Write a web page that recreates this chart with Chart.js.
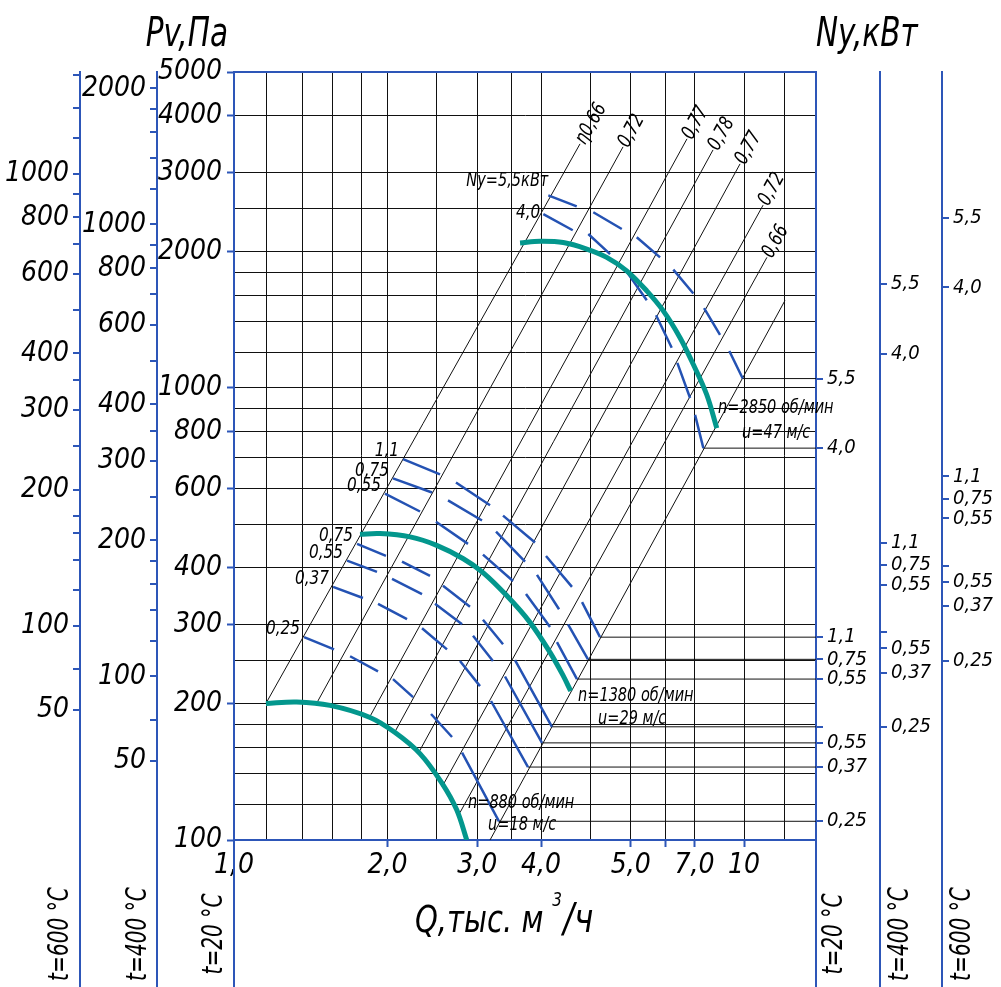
<!DOCTYPE html>
<html>
<head>
<meta charset="utf-8">
<script src="https://cdn.jsdelivr.net/npm/chart.js@4.4.1/dist/chart.umd.min.js"></script>
<style>
  html, body { margin: 0; background: #fff; }
  #wrap { width: 1001px; height: 987px; position: relative; }
</style>
</head>
<body>
<div id="wrap"><canvas id="chart"></canvas></div>
<script>
// Q in thousand m3/h, Pv in Pa (t = 20 °C)
const qMin = 1, qMax = 13.84;
const pMin = 100, pMax = 5000;

const qGrid = [1.16, 1.36, 1.56, 1.78, 2, 2.5, 3, 3.5, 4, 5, 6, 7, 8, 10, 12];
const qTickValues = [1, 2, 3, 4, 6, 7, 8, 10];
const qTickLabels = ['1,0', '2,0', '3,0', '4,0', '5,0', '', '7,0', '10'];

const pGrid = [100, 120, 140, 160, 180, 200, 250, 300, 400, 500, 600, 700, 800, 900, 1000,
  1200, 1400, 1600, 1800, 2000, 2500, 3000, 4000, 5000];
const pTickValues = [100, 200, 300, 400, 600, 800, 1000, 2000, 3000, 4000, 5000];

// outer pressure scales for hot air
const t400Ticks = [65, 80, 100, 120, 140, 160, 180, 200, 250, 300, 350, 400, 500, 600, 700, 800, 900, 1000, 1200, 1400, 1600, 1800, 2000];
const t400Labels = ['50', '', '100', '', '', '', '', '200', '', '300', '', '400', '', '600', '', '800', '', '1000', '', '', '', '', '2000'];
const t600Ticks = [65, 80, 100, 120, 140, 160, 175, 200, 250, 300, 350, 400, 500, 600, 700, 800, 900, 1000, 1200, 1400, 1650];
const t600Labels = ['50', '', '100', '', '', '', '', '200', '', '300', '', '400', '', '600', '', '800', '', '1000', '', '', ''];
const densityRatio = { t400: 2.30, t600: 2.98 };
const powerRatio = { t400: 1.618, t600: 2.268 };
const tempLabels = ['t=20 °C', 't=400 °C', 't=600 °C'];

// fan curves
const curve880 = [[1.155, 200.5], [1.327, 202], [1.543, 198.5], [1.848, 186.7], [2.069, 172.9],
  [2.315, 155.3], [2.555, 133.8], [2.733, 116.6], [2.860, 100]];
const curve1380 = [[1.766, 474.6], [1.933, 476.3], [2.214, 468.3], [2.497, 448.6], [2.816, 419],
  [3.082, 390], [3.425, 347.3], [3.805, 303], [4.165, 260], [4.422, 230.7], [4.573, 213.6]];
const curve2850 = [[3.638, 2093], [3.981, 2110], [4.422, 2097], [4.916, 2029], [5.380, 1945],
  [5.888, 1816], [6.446, 1640], [6.946, 1481], [7.491, 1292], [7.955, 1127], [8.452, 966], [8.843, 815]];
const speedNames = ['n=880 об/мин', 'n=1380 об/мин', 'n=2850 об/мин'];
const tipSpeeds = ['u=18 м/с', 'u=29 м/с', 'u=47 м/с'];

// power lines Ny, kW : dashes [Q1, P1, Q2, P2]
const power880Names = ['0,25', '0,37', '0,55', '0,75'];
const power880Scale = ['0,25', '0,37', '0,55', ''];
const power880 = [
  [[1.372, 281, 1.571, 264], [1.689, 255, 1.916, 236], [2.050, 227, 2.244, 207], [2.434, 190, 2.676, 169], [2.800, 156, 3.308, 110]],
  [[1.564, 363, 1.790, 343], [1.916, 333, 2.184, 308], [2.337, 294, 2.616, 264], [2.774, 249, 3.036, 219], [3.191, 203, 3.771, 145]],
  [[1.666, 415, 1.907, 392], [2.041, 378, 2.337, 350], [2.478, 333, 2.800, 300], [2.942, 283, 3.219, 249], [3.399, 230, 4.017, 164]],
  [[1.743, 452, 1.986, 425], [2.135, 413, 2.423, 384], [2.569, 365, 2.902, 328], [3.077, 307, 3.369, 271], [3.556, 250, 4.202, 178]]
];
const power1380Names = ['0,55', '0,75', '1,1'];
const power1380Scale = ['0,55', '0,75', '1,1'];
const power1380 = [
  [[1.977, 584, 2.316, 533], [2.489, 506, 2.876, 452], [3.077, 428, 3.524, 374], [3.737, 350, 4.165, 296], [4.298, 274, 4.704, 227]],
  [[2.050, 631, 2.445, 587], [2.628, 564, 3.064, 509], [3.264, 481, 3.721, 413], [3.927, 386, 4.338, 324], [4.518, 300, 4.944, 251]],
  [[2.145, 696, 2.535, 644], [2.724, 618, 3.177, 550], [3.369, 522, 3.892, 455], [4.090, 425, 4.599, 363], [4.813, 336, 5.220, 281]]
];
const power2850Names = ['4,0', 'Ny=5,5кВт'];
const power2850Scale = ['4,0', '5,5'];
const power2850 = [
  [[4.041, 2423, 4.615, 2233], [4.951, 2191, 5.462, 1978], [5.870, 1816, 6.446, 1563], [6.723, 1448, 7.215, 1227], [7.400, 1136, 7.838, 950], [8.017, 872, 8.323, 736]],
  [[4.133, 2667, 4.699, 2521], [5.064, 2448, 5.759, 2247], [6.161, 2154, 6.845, 1945], [7.267, 1827, 7.955, 1618], [8.350, 1501, 8.973, 1310], [9.358, 1207, 9.942, 1049]]
];

// efficiency lines [Q1, P1, Q2, P2]
const effLines = [[1.155, 200.5, 4.769, 3467], [1.448, 199.5, 5.791, 3414], [1.840, 186, 7.730, 3557],
  [2.059, 172, 8.694, 3362], [2.294, 155, 9.822, 3131], [2.557, 131, 10.90, 2538],
  [2.774, 115, 11.09, 1945], [3.177, 100, 12.03, 1561]];
const effLabels = ['η0,66', '0,72', '0,77', '0,78', '0,77', '0,72', '0,66', ''];

// ---------------------------------------------------------------
const AXIS = '#2d56b8', DASH = '#2452b3', TEAL = '#03978d', INK = '#111';
const FONT = "'Liberation Sans Narrow', 'DejaVu Sans Condensed', 'Liberation Sans', sans-serif";
Chart.defaults.font.family = FONT;
Chart.defaults.font.style = 'italic';
Chart.defaults.color = '#000';

const groups = [
  { names: power880Names, scale: power880Scale, lines: power880, curve: curve880 },
  { names: power1380Names, scale: power1380Scale, lines: power1380, curve: curve1380 },
  { names: power2850Names, scale: power2850Scale, lines: power2850, curve: curve2850 }
];

const endP = [], endLabels = [], datasets = [];
const line = (data, color, width, order) => ({
  data: data, borderColor: color, borderWidth: width, showLine: true,
  pointRadius: 0, order: order, spanGaps: false, tension: 0
});

effLines.forEach(l => datasets.push(line([{ x: l[0], y: l[1] }, { x: l[2], y: l[3] }], INK, 1, 3)));

groups.forEach(g => {
  g.lines.forEach((dashes, i) => {
    const pts = [];
    dashes.forEach(d => {
      pts.push({ x: d[0], y: d[1] }, { x: d[2], y: d[3] }, { x: d[2], y: null });
    });
    datasets.push(line(pts, DASH, 2.5, 2));
    const last = dashes[dashes.length - 1];
    endP.push(last[3]);
    endLabels.push(g.scale[i]);
    // leader to the power scale
    datasets.push(line([{ x: last[2], y: last[3] }, { x: qMax, y: last[3] }], INK, 1, 3));
  });
  const c = line(g.curve.map(p => ({ x: p[0], y: p[1] })), TEAL, 5, 1);
  c.tension = 0.35;
  datasets.push(c);
});

function fixedTicks(values) {
  return scale => { scale.ticks = values.map(v => ({ value: v })); };
}
function labelFrom(values, labels) {
  return v => { const i = values.indexOf(v); return i < 0 ? '' : labels[i]; };
}
function sideScale(pos, weight, factor, values, labels, w, size) {
  return {
    type: 'logarithmic', position: pos, weight: weight,
    min: pMin / factor, max: pMax / factor,
    afterBuildTicks: fixedTicks(values),
    afterFit: s => { s.width = w; },
    ticks: { callback: labelFrom(values, labels), autoSkip: false, padding: 4, font: { size: size } },
    grid: { drawOnChartArea: false, color: AXIS, lineWidth: 2, tickLength: 7 },
    border: { color: AXIS, width: 2 }
  };
}

const textLayer = {
  id: 'textLayer',
  afterDraw(chart) {
    const ctx = chart.ctx, a = chart.chartArea, s = chart.scales;
    const X = v => s.x.getPixelForValue(v), Y = v => s.y.getPixelForValue(v);
    const font = size => 'italic ' + size + 'px ' + FONT;
    // narrow text, like a drafting font
    const txt = (str, x, y, size, align, base, rot, sx) => {
      ctx.save();
      ctx.font = font(size); ctx.textAlign = align; ctx.textBaseline = base;
      ctx.translate(x, y); if (rot) ctx.rotate(rot); ctx.scale(sx || 1, 1);
      ctx.fillText(str, 0, 0);
      const w = ctx.measureText(str).width * (sx || 1);
      ctx.restore();
      return w;
    };
    ctx.save();

    // frame top and axis lines down to the bottom
    ctx.strokeStyle = AXIS; ctx.lineWidth = 2;
    ctx.beginPath();
    ctx.moveTo(a.left, a.top); ctx.lineTo(a.right, a.top);
    const axisX = [s.yL600.right, s.yL400.right, s.y.right, s.yR20.left, s.yR400.left, s.yR600.left];
    axisX.forEach(x => { ctx.moveTo(x, a.bottom); ctx.lineTo(x, chart.height); });
    ctx.stroke();

    ctx.fillStyle = '#000';
    // temperature captions
    const caps = [[axisX[0] - 19, tempLabels[2]], [axisX[1] - 18, tempLabels[1]], [axisX[2] - 19, tempLabels[0]],
      [axisX[3] + 19, tempLabels[0]], [axisX[4] + 21, tempLabels[1]], [axisX[5] + 21, tempLabels[2]]];
    caps.forEach(c => txt(c[1], c[0], 934, 28, 'center', 'middle', -Math.PI / 2, 0.8));

    // axis titles
    txt('Pv,Па', a.left - 6, 46, 40, 'right', 'alphabetic', 0, 0.82);
    txt('Ny,кВт', a.right, 46, 40, 'left', 'alphabetic', 0, 0.82);
    const w = txt('Q,тыс. м', 415, 932, 38, 'left', 'alphabetic', 0, 0.85);
    txt('3', 415 + w + 9, 906, 20, 'left', 'alphabetic', 0, 0.85);
    txt('/ч', 415 + w + 20, 932, 40, 'left', 'alphabetic', 0, 0.9);

    // efficiency labels along the lines
    effLines.forEach((l, i) => {
      const x1 = X(l[0]), y1 = Y(l[1]), x2 = X(l[2]), y2 = Y(l[3]);
      ctx.save(); ctx.translate(x2, y2); ctx.rotate(Math.atan2(y2 - y1, x2 - x1));
      txt(effLabels[i], 1, 0, 20, 'left', 'middle', 0, 0.85);
      ctx.restore();
    });

    // power line names
    const shift = { 'Ny=5,5кВт': [0, -14], '4,0': [-3, -1] };
    groups.forEach(g => g.lines.forEach((dashes, i) => {
      const d = dashes[0], off = shift[g.names[i]] || [-4, -8];
      txt(g.names[i], X(d[0]) + off[0], Y(d[1]) + off[1], g.names[i].length > 4 ? 19 : 20, 'right', 'middle', 0, 0.85);
    }));

    // speed notes
    const notes = [[2.876, 121, 3.148, 108], [4.726, 208, 5.173, 185], [8.892, 903, 9.91, 794]];
    notes.forEach((n, i) => {
      txt(speedNames[i], X(n[0]), Y(n[1]), 19, 'left', 'middle', 0, 0.85);
      txt(tipSpeeds[i], X(n[2]), Y(n[3]), 19, 'left', 'middle', 0, 0.85);
    });
    ctx.restore();
  }
};

const xTicks = [qMin].concat(qGrid, [qMax]);
const yTickMark = c => pTickValues.includes(c.tick.value) ? AXIS : 'rgba(0,0,0,0)';
const xTickMark = c => (c.tick.value > 1 && qTickValues.includes(c.tick.value)) ? AXIS : 'rgba(0,0,0,0)';

new Chart(document.getElementById('chart'), {
  type: 'scatter',
  data: { datasets: datasets },
  options: {
    responsive: true, maintainAspectRatio: false, animation: false,
    layout: { padding: { top: 72, left: 0, right: 0, bottom: 0 } },
    plugins: { legend: { display: false }, tooltip: { enabled: false } },
    scales: {
      x: {
        type: 'logarithmic', position: 'bottom', min: qMin, max: qMax,
        afterBuildTicks: fixedTicks(xTicks),
        afterFit: s => { s.height = 147; },
        ticks: { callback: labelFrom(qTickValues, qTickLabels), autoSkip: false, maxRotation: 0, padding: 2, font: { size: 28 } },
        grid: { color: INK, lineWidth: 1, tickLength: 7, tickColor: xTickMark, tickWidth: 2 },
        border: { color: AXIS, width: 2 }
      },
      y: {
        type: 'logarithmic', position: 'left', weight: 1, min: pMin, max: pMax,
        afterBuildTicks: fixedTicks(pGrid),
        afterFit: s => { s.width = 77; },
        ticks: { callback: v => pTickValues.includes(v) ? String(v) : '', autoSkip: false, padding: 5, font: { size: 28 } },
        grid: { color: INK, lineWidth: 1, tickLength: 7, tickColor: yTickMark, tickWidth: 2 },
        border: { color: AXIS, width: 2 }
      },
      yL400: sideScale('left', 2, densityRatio.t400, t400Ticks, t400Labels, 77, 28),
      yL600: sideScale('left', 3, densityRatio.t600, t600Ticks, t600Labels, 80, 28),
      yR20: sideScale('right', 1, 1, endP, endLabels, 64, 20),
      yR400: sideScale('right', 2, powerRatio.t400, endP, endLabels, 62, 20),
      yR600: sideScale('right', 3, powerRatio.t600, endP, endLabels, 59, 20)
    }
  },
  plugins: [textLayer]
});
</script>
</body>
</html>
